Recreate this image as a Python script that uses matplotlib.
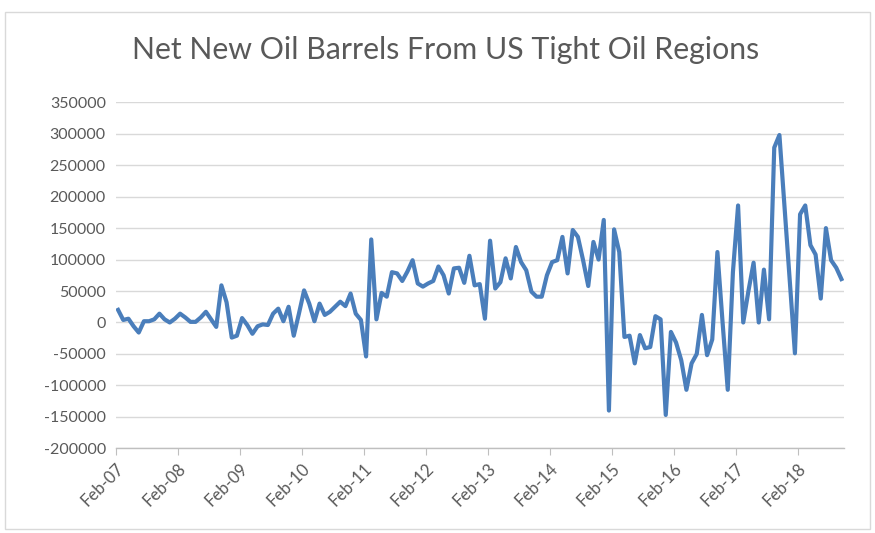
import matplotlib
matplotlib.use("Agg")
import matplotlib.pyplot as plt
from matplotlib.patches import Rectangle
import numpy as np

title = "Net New Oil Barrels From US Tight Oil Regions"
tick_labels = ["Feb-07", "Feb-08", "Feb-09", "Feb-10", "Feb-11", "Feb-12",
               "Feb-13", "Feb-14", "Feb-15", "Feb-16", "Feb-17", "Feb-18"]
y_ticks = [-200000, -150000, -100000, -50000, 0, 50000, 100000, 150000,
           200000, 250000, 300000, 350000]

# monthly values, Feb-07 .. Oct-18 (thousand barrels, scaled below)
values_k = [
    20, 4, 6, -6, -16, 2, 2, 5, 14, 5, 0, 6,
    14, 8, 1, 1, 8, 17, 5, -7, 59, 32, -24, -21,
    7, -4, -18, -6, -3, -4, 14, 22, 2, 25, -21, 14,
    51, 30, 2, 30, 12, 17, 25, 33, 26, 46, 14, 4,
    -54, 132, 5, 47, 41, 80, 78, 66, 81, 99, 62, 57,
    62, 66, 89, 75, 46, 86, 87, 63, 106, 59, 61, 6,
    130, 54, 64, 102, 70, 120, 96, 83, 49, 41, 41, 75,
    96, 99, 136, 78, 147, 136, 99, 58, 128, 100, 163, -140,
    148, 112, -23, -21, -65, -20, -41, -39, 10, 5, -147, -15,
    -32, -60, -107, -65, -50, 12, -52, -27, 112, 0, -107, 80,
    186, 0, 50, 95, 0, 84, 5, 278, 298, 183, 67, -49,
    172, 186, 123, 108, 38, 150, 99, 87, 69,
]
values = np.array(values_k) * 1000
months = np.arange(len(values)) + 0.5
tick_pos = np.arange(len(tick_labels)) * 12

W, H = 875, 533
fig = plt.figure(figsize=(W / 100, H / 100), dpi=100)
fig.patch.set_facecolor("white")

# outer chart border
fig.patches.append(Rectangle((5 / W, 4 / H), 865 / W, 517 / H,
                             transform=fig.transFigure, fill=False,
                             edgecolor="#d9d9d9", linewidth=1.0))

left, right = 115.5 / W, 844 / W
top, bottom = 1 - 102.3 / H, 1 - 448.3 / H
ax = fig.add_axes([left, bottom, right - left, top - bottom])

ax.plot(months, values, color="#4a7ebb", linewidth=3.0, solid_joinstyle="round")

ax.set_xlim(0, len(values))
ax.set_ylim(-200000, 350000)
ax.set_yticks(y_ticks)
ax.set_yticklabels([str(v) for v in y_ticks])
ax.set_xticks(tick_pos)
ax.set_xticklabels(tick_labels, rotation=45, ha="right", va="top",
                   rotation_mode="anchor")

ax.grid(axis="y", color="#d9d9d9", linewidth=1.0)
ax.set_axisbelow(True)
for s in ["top", "right", "left"]:
    ax.spines[s].set_visible(False)
ax.spines["bottom"].set_color("#bfbfbf")
ax.spines["bottom"].set_linewidth(1.0)
ax.tick_params(axis="y", length=0, pad=7, labelsize=11.5, labelcolor="#595959")
ax.tick_params(axis="x", length=5, color="#bfbfbf", pad=4, labelsize=12,
               labelcolor="#595959")
for lab in ax.get_xticklabels() + ax.get_yticklabels():
    lab.set_family("Lato")

fig.text(446 / W, 1 - 50 / H, title, ha="center", va="center",
         fontsize=21.8, color="#595959", family="Lato")

fig.savefig("out.png", dpi=100, facecolor="white")
